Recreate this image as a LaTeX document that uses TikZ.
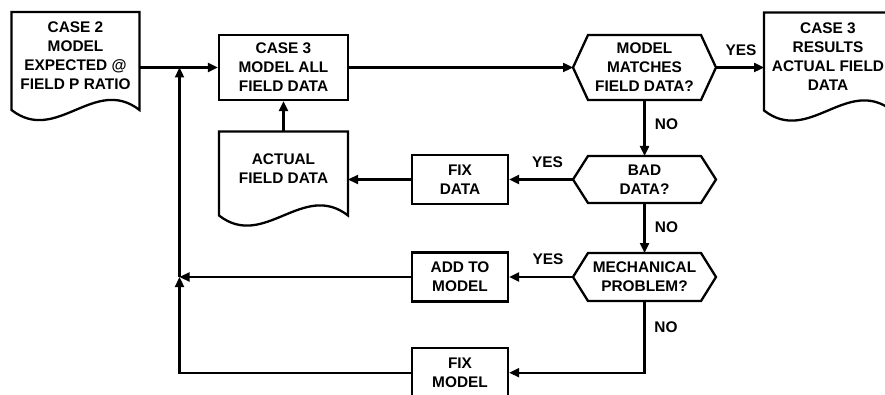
\documentclass[tikz,border=0pt]{standalone}
\usepackage{fontspec}
\setmainfont{Liberation Sans}
\usetikzlibrary{arrows.meta,calc}
\begin{document}
\begin{tikzpicture}[x=1pt,y=-1pt,
  every node/.style={font=\fontsize{15.4}{19}\selectfont\bfseries, align=center, line width=2.3pt},
  proc/.style={draw, rectangle, minimum width=96pt, minimum height=49pt, inner sep=0pt},
  docshape/.style={rectangle, minimum width=128pt, inner sep=0pt, outer sep=0pt},
  decision/.style={rectangle, minimum width=143pt, inner sep=0pt, outer sep=0pt},
  flow/.style={line width=2.3pt, -{Triangle[length=10pt,width=9pt]}},
  outline/.style={line width=2.3pt, line join=miter},
  lbl/.style={inner sep=0pt}
]
% canvas
\useasboundingbox (0,0) rectangle (885,395);
\fill[white] (0,0) rectangle (885,395);
\clip (0,0) rectangle (885,395);

% documents (text carried by the node, outline drawn below)
\node[docshape, minimum height=88pt] (doc1) at (75.5,56) {CASE 2\\MODEL\\EXPECTED @\\FIELD P RATIO};
\node[docshape, minimum height=74pt, minimum width=129pt] (actual) at (283.5,168.5) {ACTUAL\\FIELD DATA};
\node[docshape, minimum height=88pt] (doc3) at (828,56.5) {CASE 3\\RESULTS\\ACTUAL FIELD\\DATA};

% process boxes
\node[proc, minimum width=129pt, minimum height=65pt] (box1) at (283.5,67.5) {CASE 3\\MODEL ALL\\FIELD DATA};
\node[proc] (fixdata) at (460,179.5) {FIX\\DATA};
\node[proc] (add) at (460,277) {ADD TO\\MODEL};
\node[proc] (fixmodel) at (460,372.7) {FIX\\MODEL};

% decisions
\node[decision, minimum height=65pt] (q1) at (644.5,67.5) {MODEL\\MATCHES\\FIELD DATA?};
\node[decision, minimum height=47pt] (q2) at (644.5,179.5) {BAD\\DATA?};
\node[decision, minimum height=48pt] (q3) at (644.5,277) {MECHANICAL\\PROBLEM?};

% document outlines with wavy bottom
\foreach \d in {doc1,actual,doc3}
  \draw[outline] (\d.north west) -- (\d.north east) -- ($(\d.south east)+(0,10)$)
    .. controls ($(\d.south east)+(-45,-25)$) and ($(\d.south west)+(45,45)$) ..
    ($(\d.south west)+(0,10)$) -- cycle;

% hexagon outlines
\foreach \q in {q1,q2,q3}
  \draw[outline] ($(\q.north west)+(15,0)$) -- ($(\q.north east)+(-15,0)$) -- (\q.east)
    -- ($(\q.south east)+(-15,0)$) -- ($(\q.south west)+(15,0)$) -- (\q.west) -- cycle;

% junctions on the return line
\coordinate (j1) at (179.5,67.5);
\coordinate (j2) at (179.5,277);
\coordinate (j3) at (179.5,372.7);

% connectors
\draw[flow] (doc1.east |- box1.west) -- (box1.west);
\draw[flow] (j2) -- (j1);
\draw[flow] (add.west) -- (j2);
\draw[flow] (fixmodel.west) -- (j3) -- (j2);
\draw[flow] (box1.east) -- (q1.west);
\draw[flow] (q1.east) -- (q1.east -| doc3.west);
\draw[flow] (q1.south) -- (q2.north);
\draw[flow] (q2.west) -- (fixdata.east);
\draw[flow] (fixdata.west) -- (fixdata.west -| actual.east);
\draw[flow] (actual.north) -- (box1.south);
\draw[flow] (q2.south) -- (q3.north);
\draw[flow] (q3.west) -- (add.east);
\draw[flow] (q3.south) |- (fixmodel.east);

% branch labels
\node[lbl] (y1) at (741,50.7) {YES};
\node[lbl] (n1) at (666.5,124) {NO};
\node[lbl] (y2) at (547.5,162) {YES};
\node[lbl] (n2) at (666.5,226.7) {NO};
\node[lbl] (y3) at (548,259.3) {YES};
\node[lbl] (n3) at (666,326.7) {NO};
\end{tikzpicture}
\end{document}
